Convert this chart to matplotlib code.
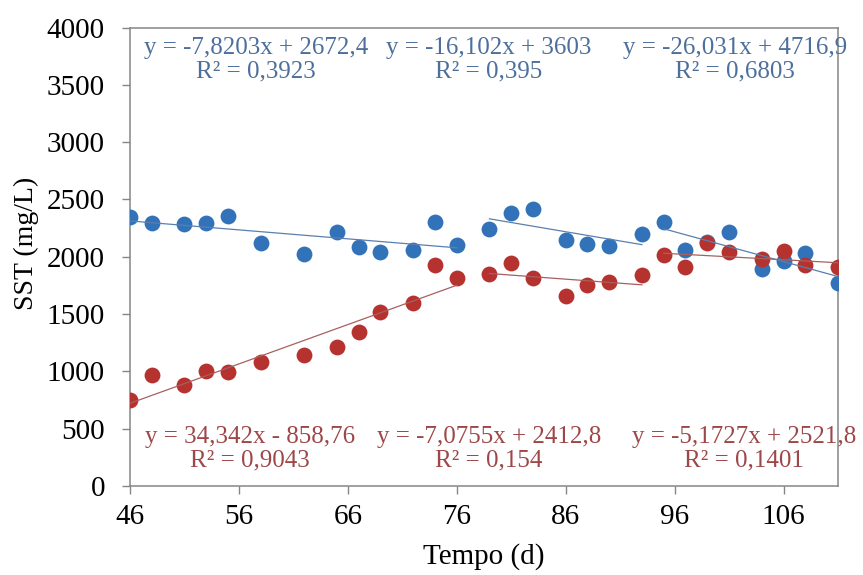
import matplotlib
import numpy as np

matplotlib.use("Agg")
import matplotlib.pyplot as plt  # noqa: E402

days = [46, 48, 51, 53, 55, 58, 62, 65, 67, 69, 72, 74, 76, 79, 81, 83, 86, 88, 90, 93,
        95, 97, 99, 101, 104, 106, 108, 111]
sst_blue = [2345, 2298, 2290, 2298, 2359, 2116, 2026, 2220, 2081, 2043, 2055, 2302, 2104,
            2241, 2386, 2417, 2148, 2110, 2090, 2197,
            2307, 2061, 2130, 2220, 1896, 1965, 2032, 1771]
sst_red = [750, 965, 884, 1003, 991, 1081, 1145, 1215, 1342, 1516, 1597, 1928, 1811,
           1852, 1945, 1815, 1661, 1757, 1777, 1843,
           2017, 1907, 2124, 2041, 1980, 2046, 1924, 1907]

# (first index, last index) of each phase
segments = [(0, 12), (13, 19), (20, 27)]
trend_blue = [(-7.8203, 2672.4), (-16.102, 3603), (-26.031, 4716.9)]
trend_red = [(34.342, -858.76), (-7.0755, 2412.8), (-5.1727, 2521.8)]
labels_blue = ["y = -7,8203x + 2672,4\nR² = 0,3923",
               "y = -16,102x + 3603\nR² = 0,395",
               "y = -26,031x + 4716,9\nR² = 0,6803"]
labels_red = ["y = 34,342x - 858,76\nR² = 0,9043",
              "y = -7,0755x + 2412,8\nR² = 0,154",
              "y = -5,1727x + 2521,8\nR² = 0,1401"]

x_ticks = [46, 56, 66, 76, 86, 96, 106]
y_ticks = [0, 500, 1000, 1500, 2000, 2500, 3000, 3500, 4000]

BLUE = "#3272b8"
RED = "#b5322f"
BLUE_TXT = "#4c6f9c"
RED_TXT = "#9e4748"
GRID = "#868686"

plt.rcParams["font.family"] = ["Liberation Serif", "DejaVu Serif"]

fig = plt.figure(figsize=(8.63, 5.75), dpi=100)
ax = fig.add_axes([0.1506, 0.155, 0.8204, 0.797])

x = np.asarray(days, dtype=float)
ax.scatter(x, sst_blue, s=130, color=BLUE, linewidths=0, zorder=3)
ax.scatter(x, sst_red, s=130, color=RED, linewidths=0, zorder=4)

for (i0, i1), (mb, bb), (mr, br) in zip(segments, trend_blue, trend_red):
    xs = np.array([days[i0], days[i1]], dtype=float)
    ax.plot(xs, mb * xs + bb, color="#5a7fb0", linewidth=0.9, zorder=5)
    ax.plot(xs, mr * xs + br, color="#a8605f", linewidth=0.9, zorder=5)

blue_pos = [0.178, 0.506, 0.855]
red_pos = [0.169, 0.507, 0.867]
for text, xp in zip(labels_blue, blue_pos):
    ax.text(xp, 0.930, text, transform=ax.transAxes, ha="center", va="center",
            multialignment="center", fontsize=18, color=BLUE_TXT, linespacing=1.05, zorder=6)
for text, xp in zip(labels_red, red_pos):
    ax.text(xp, 0.081, text, transform=ax.transAxes, ha="center", va="center",
            multialignment="center", fontsize=18, color=RED_TXT, linespacing=1.05, zorder=6)

ax.set_xlim(46, 111)
ax.set_ylim(0, 4000)
ax.set_xticks(x_ticks)
ax.set_yticks(y_ticks)
ax.tick_params(axis="both", direction="out", length=6, width=1, color=GRID, labelsize=21)
ax.tick_params(axis="y", pad=12)
ax.tick_params(axis="x", pad=7)
for spine in ax.spines.values():
    spine.set_color(GRID)
    spine.set_linewidth(1.1)

ax.set_xlabel("Tempo (d)", fontsize=21)
ax.set_ylabel("SST (mg/L)", fontsize=20, va="center")
ax.xaxis.set_label_coords(0.5, -0.125)
ax.yaxis.set_label_coords(-0.146, 0.53)

fig.savefig("out.png", dpi=100)
plt.close(fig)
